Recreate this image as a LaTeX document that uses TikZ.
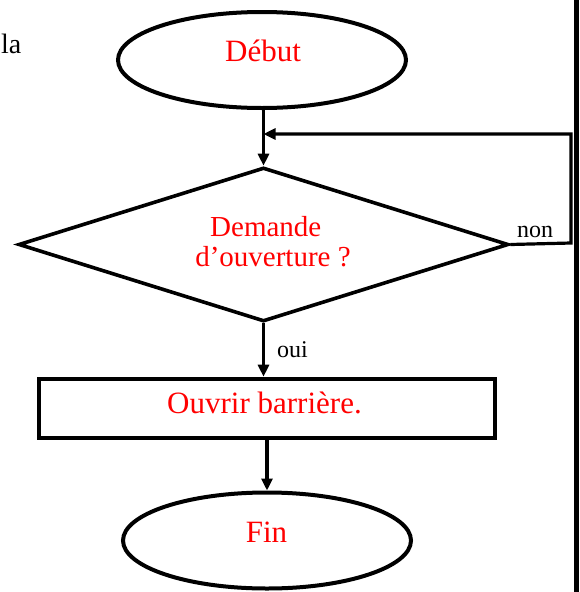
\documentclass[tikz,border=0pt]{standalone}
\usepackage{fontspec}
\setmainfont{Liberation Serif}
\usetikzlibrary{shapes.geometric,arrows.meta}
\begin{document}
\begin{tikzpicture}[x=1pt,y=-1pt,
  shapeline/.style={draw=black,line width=4pt},
  term/.style={shapeline,ellipse,minimum width=288pt,minimum height=96pt,inner sep=0pt},
  cond/.style={draw=black,line width=3.6pt,diamond,minimum width=490pt,minimum height=154pt,inner sep=0pt},
  proc/.style={draw=black,line width=4.6pt,rectangle,minimum width=456pt,minimum height=59pt,inner sep=0pt},
  redtxt/.style={text=red,font=\fontsize{31}{36}\selectfont,inner sep=0pt,anchor=base},
  qtxt/.style={text=red,font=\fontsize{29}{34}\selectfont,inner sep=0pt,anchor=base},
  lbl/.style={text=black,font=\fontsize{24}{28}\selectfont,inner sep=0pt,anchor=base west},
  conn/.style={line width=3.2pt,-{Triangle[length=12pt,width=11pt]}},
]
\useasboundingbox (0,0) rectangle (579,592);
\fill[black] (574,0) rectangle (579,592);
\node[text=black,font=\fontsize{28}{32}\selectfont,inner sep=0pt,anchor=base west] (la) at (1,53) {la};

\node[term] (debut) at (262,60) {};
\node[redtxt] (debutt) at (263,61) {Début};

\node[cond] (q) at (263.5,244.5) {};
\node[qtxt] (qt1) at (265.8,236.7) {Demande};
\node[qtxt] (qt2) at (273,266.7) {d’ouverture ?};

\node[proc] (ouv) at (267,408.5) {};
\node[redtxt] (ouvt) at (264.5,413) {Ouvrir barrière.};

\node[term] (fin) at (267,540.5) {};
\node[redtxt] (fint) at (266.5,542) {Fin};

\coordinate (c1) at (571,243);
\coordinate (c2) at (571,134);

\draw[conn] (q.north |- debut.south) -- (q.north);
\draw[conn] (q.east) -- (c1) -- (c2) -- (c2 -| q.north);
\draw[conn] (q.south) -- (q.south |- ouv.north);
\draw[conn] (ouv.south) -- (fin.north);

\node[lbl] (non) at (517,237) {non};
\node[lbl] (oui) at (277,357) {oui};
\end{tikzpicture}
\end{document}
